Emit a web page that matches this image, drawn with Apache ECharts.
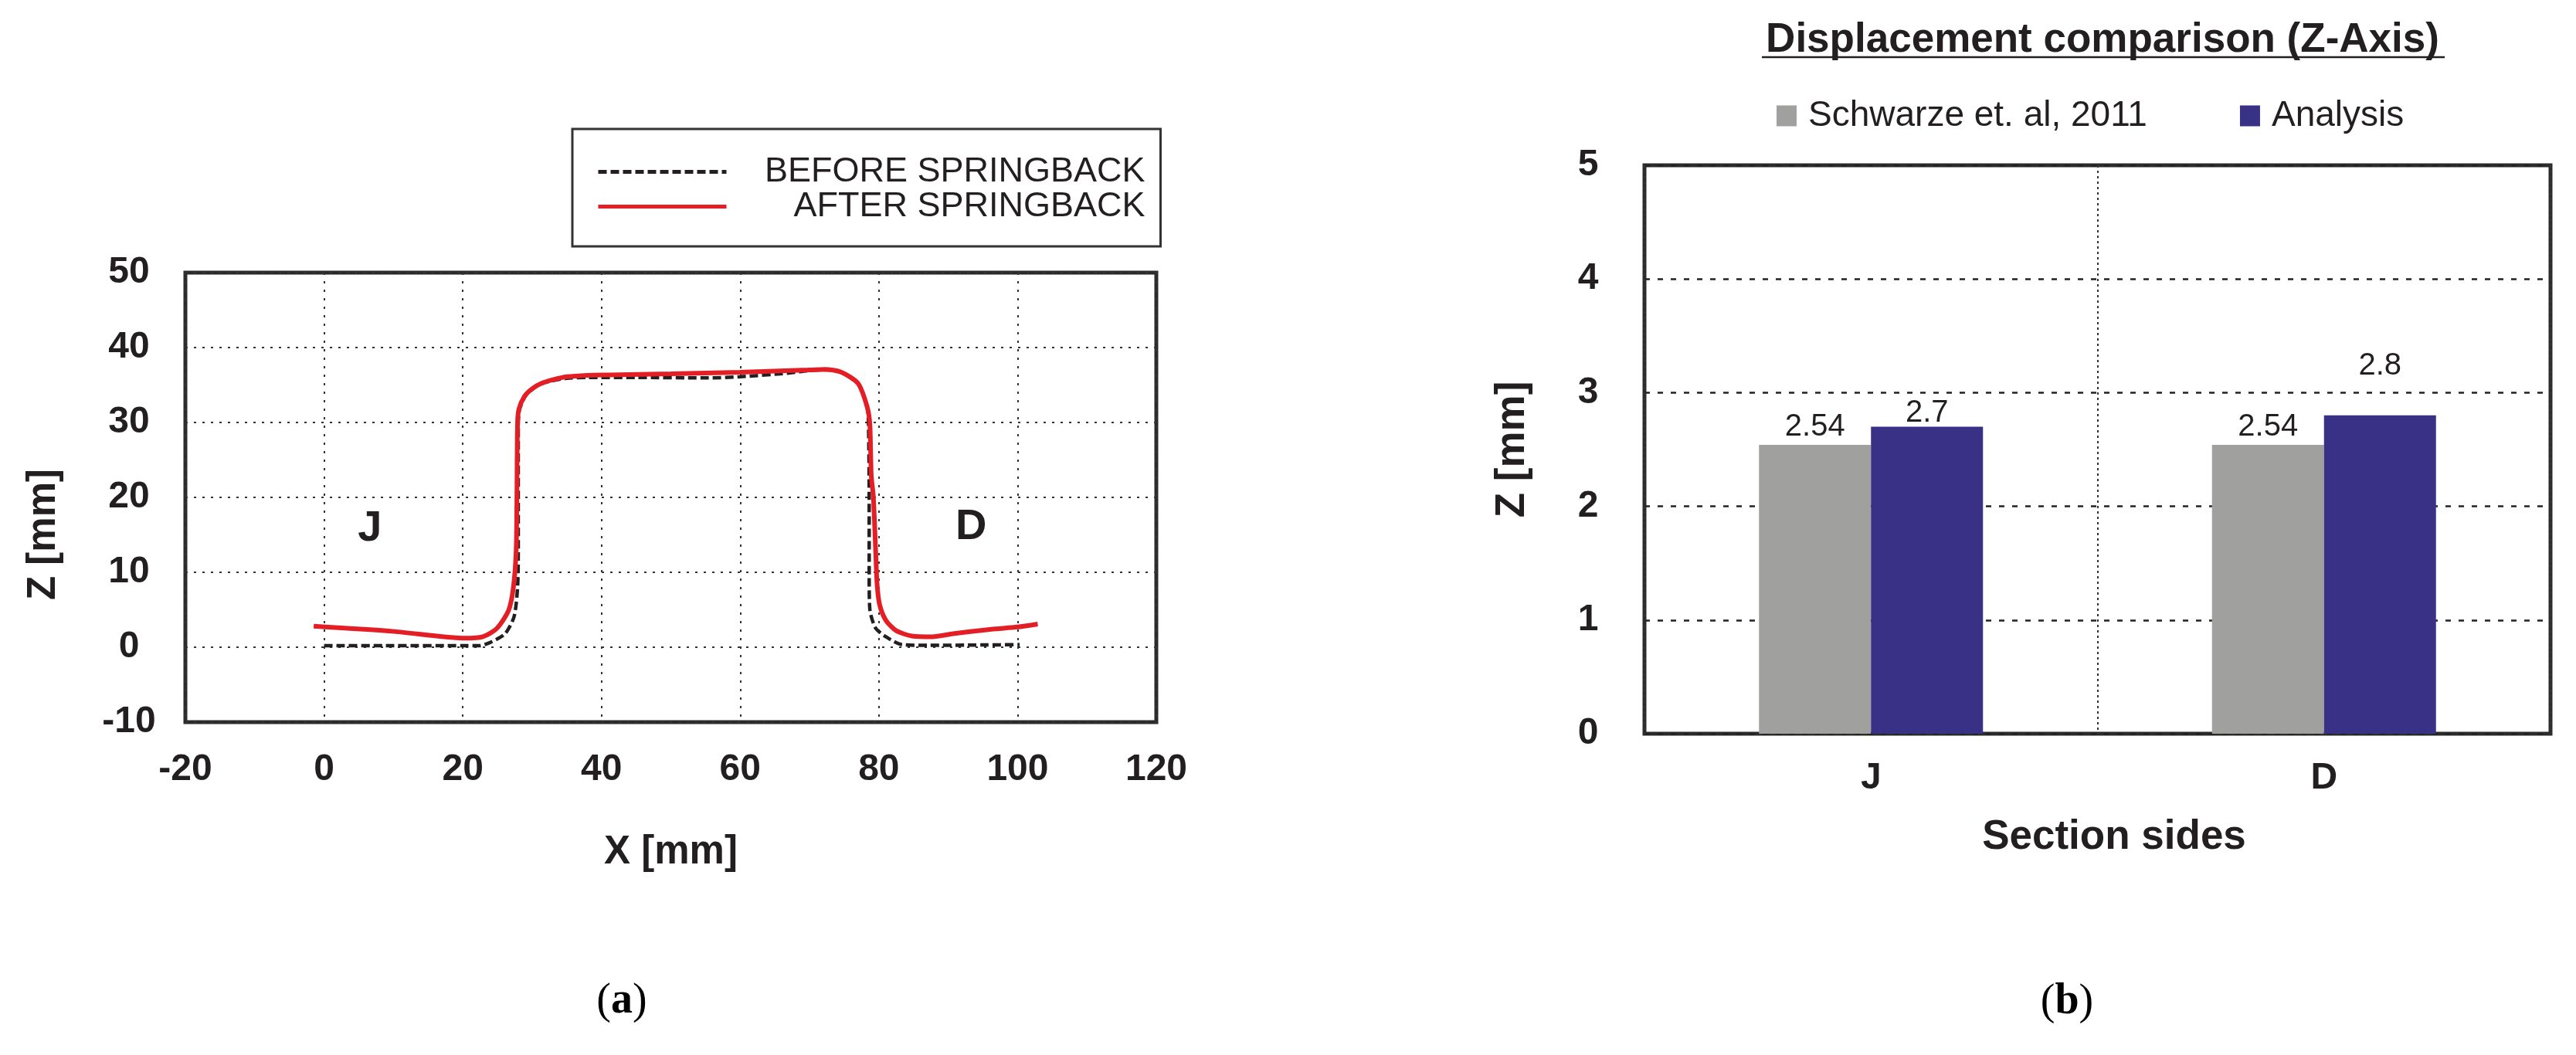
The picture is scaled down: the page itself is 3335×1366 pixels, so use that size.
<!DOCTYPE html>
<html>
<head>
<meta charset="utf-8">
<title>Springback and displacement comparison</title>
<script src="https://cdn.jsdelivr.net/npm/echarts@6/dist/echarts.min.js"></script>
<style>
  html, body { margin: 0; padding: 0; background: #fff; }
  #main { width: 3335px; height: 1366px; }
</style>
</head>
<body>
<div id="main"></div>
<script>
// (a) section profile, X [mm] / Z [mm]
const beforeSpringback = [
  [0, 0.2], [10, 0.2], [20, 0.2], [22.4, 0.2], [24.1, 0.7], [26.1, 1.8], [27.4, 4.1],
  [27.9, 8.0], [28.0, 13.0], [28.0, 20.0], [28.0, 30.0], [28.2, 31.8], [29.0, 33.5],
  [30.1, 34.5], [31.4, 35.2], [33.0, 35.6], [35.0, 35.9], [38.0, 36.0], [45.0, 36.0],
  [55.0, 35.95], [60.0, 36.1], [67.0, 36.6], [71.0, 37.0], [73.0, 37.0], [74.6, 36.7],
  [77.0, 35.2], [78.3, 32.1], [78.5, 29.7], [78.6, 20.1], [78.6, 9.1], [78.7, 5.0],
  [79.5, 2.6], [81.0, 1.4], [83.3, 0.35], [87.0, 0.25], [95.0, 0.3], [100.3, 0.35]
]
const afterSpringback = [
  [-1.5, 2.8], [10.1, 2.1], [20.4, 1.2], [22.9, 1.4], [24.9, 2.5], [26.6, 4.9], [27.3, 8.0],
  [27.7, 13.0], [27.8, 20.0], [27.9, 30.0], [28.1, 31.8], [28.9, 33.5], [30.0, 34.5],
  [31.3, 35.2], [33.0, 35.7], [35.0, 36.1], [38.0, 36.3], [41.0, 36.35], [50.0, 36.5],
  [60.0, 36.7], [69.8, 37.0], [72.2, 37.1], [74.6, 36.7], [77.0, 35.2], [78.3, 32.1],
  [78.7, 29.7], [78.9, 22.9], [79.2, 20.1], [79.55, 12.5], [79.74, 8.4], [80.1, 5.7],
  [81.0, 3.6], [82.5, 2.2], [84.75, 1.5], [87.7, 1.4], [90.7, 1.8], [96.2, 2.4],
  [100.0, 2.7], [102.9, 3.1]
]
// side names written inside the plot
const sideNotes = [['J', 6.6, 15.8], ['D', 93.3, 16.0]]

// (b) displacement comparison
const sides = ['J', 'D']
const schwarzeValues = [2.54, 2.54]
const analysisValues = [2.7, 2.8]

const FONT = '"Liberation Sans", Arial, Helvetica, sans-serif'
const SERIF = '"Liberation Serif", "DejaVu Serif", serif'
const INK = '#231f20'

let chart = echarts.init(document.getElementById('main'), null, { renderer: 'canvas' })

const boldLabel = {
  fontFamily: FONT,
  fontWeight: 'bold',
  fontSize: 48,
  color: INK
}

let option = {
  animation: false,
  backgroundColor: '#fff',
  title: {
    text: 'Displacement comparison (Z-Axis)',
    left: 2722,
    top: 26,
    textAlign: 'center',
    padding: 0,
    textStyle: { fontFamily: FONT, fontWeight: 'bold', fontSize: 53, color: INK }
  },
  legend: [
    {
      data: ['BEFORE SPRINGBACK', 'AFTER SPRINGBACK'],
      orient: 'vertical',
      left: 741,
      top: 167,
      padding: [33, 20, 29, 31],
      itemGap: 0,
      itemWidth: 166,
      itemHeight: 20,
      borderColor: '#333',
      borderWidth: 3,
      selectedMode: false,
      // only the line sample, no marker in the middle
      itemStyle: { opacity: 0 },
      lineStyle: { width: 5 },
      formatter: name => '{t|' + name + '}',
      textStyle: {
        rich: {
          t: { width: 537, align: 'right', fontFamily: FONT, fontSize: 45, lineHeight: 48, color: INK }
        }
      }
    },
    {
      data: ['Schwarze et. al, 2011', 'Analysis'],
      orient: 'horizontal',
      left: 2300,
      top: 127,
      padding: 0,
      itemGap: 120,
      itemWidth: 26,
      itemHeight: 27,
      icon: 'rect',
      selectedMode: false,
      formatter: name => '{t|' + name + '}',
      textStyle: {
        rich: {
          t: { padding: [0, 0, 0, 10], fontFamily: FONT, fontSize: 46, lineHeight: 54, color: INK }
        }
      }
    }
  ],
  grid: [
    {
      left: 240, top: 353, width: 1257, height: 582,
      show: true, borderColor: '#2b2b2b', borderWidth: 5
    },
    {
      left: 2129, top: 214, width: 1173, height: 736,
      show: true, borderColor: '#2b2b2b', borderWidth: 5
    }
  ],
  xAxis: [
    {
      gridIndex: 0,
      type: 'value',
      min: -20,
      max: 120,
      interval: 20,
      name: 'X [mm]',
      nameLocation: 'middle',
      nameGap: 143,
      nameTextStyle: { fontFamily: FONT, fontWeight: 'bold', fontSize: 51, color: INK },
      axisLine: { show: false },
      axisTick: { show: false },
      axisLabel: Object.assign({ margin: 38 }, boldLabel),
      splitLine: { show: true, lineStyle: { type: [3, 8], color: '#333', width: 2 } }
    },
    {
      gridIndex: 1,
      type: 'category',
      data: sides,
      name: 'Section sides',
      nameLocation: 'middle',
      nameGap: 108,
      nameTextStyle: { fontFamily: FONT, fontWeight: 'bold', fontSize: 53, color: INK, padding: [0, 0, 0, 43] },
      axisLine: { show: false },
      axisTick: { show: false },
      axisLabel: Object.assign({ margin: 34 }, boldLabel),
      splitLine: { show: true, lineStyle: { type: [3, 4], color: '#333', width: 2 } }
    }
  ],
  yAxis: [
    {
      gridIndex: 0,
      type: 'value',
      min: -10,
      max: 50,
      interval: 10,
      name: 'Z [mm]',
      nameLocation: 'middle',
      nameRotate: 90,
      nameGap: 158,
      nameTextStyle: { fontFamily: FONT, fontWeight: 'bold', fontSize: 51, color: INK, padding: [0, 96, 0, 0] },
      axisLine: { show: false },
      axisTick: { show: false },
      axisLabel: Object.assign({ margin: 73, align: 'center' }, boldLabel),
      splitLine: { show: true, lineStyle: { type: [3, 8], color: '#333', width: 2 } }
    },
    {
      gridIndex: 1,
      type: 'value',
      min: 0,
      max: 5,
      interval: 1,
      name: 'Z [mm]',
      nameLocation: 'middle',
      nameRotate: 90,
      nameGap: 144,
      nameTextStyle: { fontFamily: FONT, fontWeight: 'bold', fontSize: 53, color: INK },
      axisLine: { show: false },
      axisTick: { show: false },
      axisLabel: Object.assign({ margin: 73, align: 'center' }, boldLabel),
      splitLine: { show: true, lineStyle: { type: [7, 10], color: '#222', width: 2.5 } }
    }
  ],
  series: [
    {
      name: 'BEFORE SPRINGBACK',
      type: 'line',
      xAxisIndex: 0,
      yAxisIndex: 0,
      data: beforeSpringback,
      symbol: 'none',
      smooth: 0.25,
      color: '#231f20',
      lineStyle: { color: '#231f20', width: 4.5, type: [11, 5] },
      z: 3
    },
    {
      name: 'AFTER SPRINGBACK',
      type: 'line',
      xAxisIndex: 0,
      yAxisIndex: 0,
      data: afterSpringback,
      symbol: 'none',
      smooth: 0.25,
      color: '#e31e24',
      lineStyle: { color: '#e31e24', width: 6 },
      z: 4
    },
    {
      name: 'sideNotes',
      type: 'scatter',
      xAxisIndex: 0,
      yAxisIndex: 0,
      silent: true,
      symbolSize: 1,
      itemStyle: { color: 'rgba(0,0,0,0)', opacity: 1 },
      data: sideNotes.map(s => ({ name: s[0], value: [s[1], s[2]] })),
      label: {
        show: true,
        position: 'inside',
        formatter: '{b}',
        fontFamily: FONT,
        fontWeight: 'bold',
        fontSize: 56,
        color: INK
      }
    },
    {
      name: 'Schwarze et. al, 2011',
      type: 'bar',
      xAxisIndex: 1,
      yAxisIndex: 1,
      data: schwarzeValues,
      barWidth: 145,
      barGap: '0%',
      itemStyle: { color: '#a0a09f' },
      label: { show: true, position: 'top', distance: 3, fontFamily: FONT, fontSize: 40, color: INK }
    },
    {
      name: 'Analysis',
      type: 'bar',
      xAxisIndex: 1,
      yAxisIndex: 1,
      // the D label sits well above its bar in the original
      data: analysisValues.map((v, i) => ({ value: v, label: { distance: i === 1 ? 44 : -2 } })),
      barWidth: 145,
      barGap: '0%',
      itemStyle: { color: '#393185' },
      label: { show: true, position: 'top', distance: 3, fontFamily: FONT, fontSize: 40, color: INK }
    }
  ],
  graphic: [
    // underline of the (b) heading
    {
      type: 'line',
      shape: { x1: 2281, y1: 74, x2: 3165, y2: 74 },
      style: { stroke: INK, lineWidth: 2.5 }
    },
    {
      type: 'text',
      x: 805,
      y: 1297,
      style: {
        text: '({b|a})',
        fontFamily: SERIF,
        fontSize: 56,
        fill: '#000',
        align: 'center',
        verticalAlign: 'middle',
        rich: { b: { fontFamily: SERIF, fontSize: 56, fontWeight: 'bold', fill: '#000' } }
      }
    },
    {
      type: 'text',
      x: 2676,
      y: 1298,
      style: {
        text: '({b|b})',
        fontFamily: SERIF,
        fontSize: 56,
        fill: '#000',
        align: 'center',
        verticalAlign: 'middle',
        rich: { b: { fontFamily: SERIF, fontSize: 56, fontWeight: 'bold', fill: '#000' } }
      }
    }
  ]
}

chart.setOption(option)
</script>
</body>
</html>
